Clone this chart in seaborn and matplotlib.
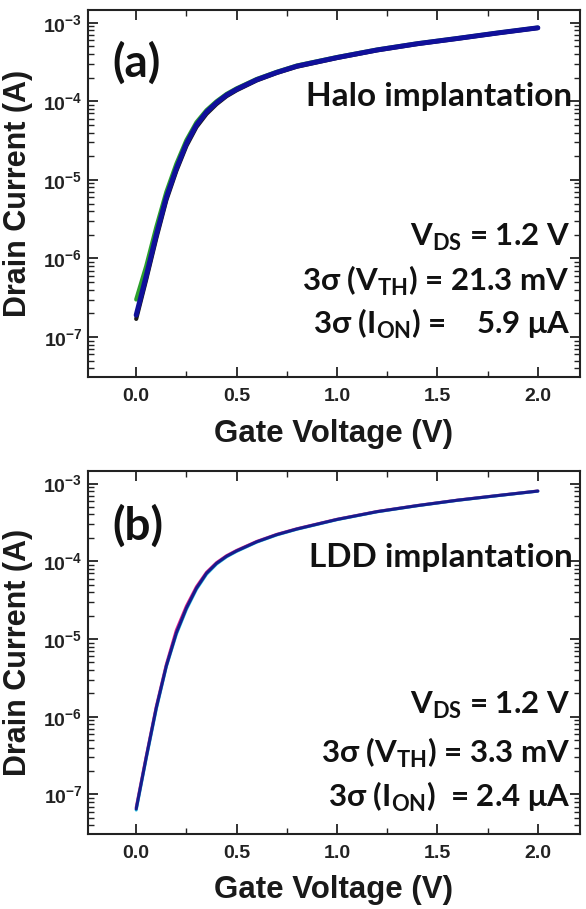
import numpy as np
import pandas as pd
import matplotlib
matplotlib.use("Agg")
import matplotlib.pyplot as plt
import seaborn as sns
from matplotlib.ticker import LogLocator, FixedLocator, MultipleLocator, FuncFormatter

sns.set_theme(style="ticks")
plt.rcParams['font.family'] = ['Liberation Sans', 'DejaVu Sans']
plt.rcParams['mathtext.fontset'] = 'custom'
plt.rcParams['mathtext.rm'] = 'Liberation Sans:bold'
plt.rcParams['mathtext.it'] = 'Liberation Sans:bold'
plt.rcParams['mathtext.bf'] = 'Liberation Sans:bold'
plt.rcParams['mathtext.sf'] = 'Lato:bold'

# ---- data ----
gate_v = [0.0, 0.05, 0.1, 0.15, 0.2, 0.25, 0.3, 0.35, 0.4, 0.45, 0.5, 0.6, 0.7, 0.8,
          1.0, 1.2, 1.4, 1.6, 1.8, 2.0]

halo_main = [1.9e-7, 6.0e-7, 2.0e-6, 6.0e-6, 1.4e-5, 2.9e-5, 5.0e-5, 7.3e-5, 9.6e-5, 1.2e-4,
             1.42e-4, 1.88e-4, 2.33e-4, 2.8e-4, 3.6e-4, 4.5e-4, 5.4e-4, 6.3e-4, 7.4e-4, 8.6e-4]
halo_upper = [3.0e-7, 8.0e-7, 2.5e-6, 7.0e-6, 1.6e-5, 3.2e-5, 5.4e-5, 7.7e-5, 1.0e-4, 1.24e-4,
              1.46e-4, 1.92e-4, 2.37e-4, 2.85e-4, 3.65e-4, 4.55e-4, 5.45e-4, 6.35e-4, 7.45e-4, 8.65e-4]
halo_lower = [1.7e-7, 5.4e-7, 1.8e-6, 5.5e-6, 1.3e-5, 2.7e-5, 4.7e-5, 6.9e-5, 9.2e-5, 1.16e-4,
              1.38e-4, 1.84e-4, 2.29e-4, 2.75e-4, 3.55e-4, 4.45e-4, 5.35e-4, 6.25e-4, 7.35e-4, 8.55e-4]

ldd_main = [6.5e-8, 3.0e-7, 1.3e-6, 4.5e-6, 1.2e-5, 2.5e-5, 4.5e-5, 7.0e-5, 9.4e-5, 1.16e-4,
            1.36e-4, 1.78e-4, 2.2e-4, 2.6e-4, 3.45e-4, 4.35e-4, 5.2e-4, 6.1e-4, 7.0e-4, 8.0e-4]
ldd_upper = [6.8e-8, 3.1e-7, 1.35e-6, 4.7e-6, 1.3e-5, 2.65e-5, 4.7e-5, 7.2e-5, 9.6e-5, 1.18e-4,
             1.38e-4, 1.8e-4, 2.22e-4, 2.62e-4, 3.47e-4, 4.37e-4, 5.22e-4, 6.12e-4, 7.02e-4, 8.02e-4]
ldd_lower = [6.3e-8, 2.9e-7, 1.25e-6, 4.4e-6, 1.15e-5, 2.4e-5, 4.35e-5, 6.8e-5, 9.2e-5, 1.14e-4,
             1.34e-4, 1.76e-4, 2.18e-4, 2.58e-4, 3.43e-4, 4.33e-4, 5.18e-4, 6.08e-4, 6.98e-4, 7.98e-4]

x_ticks = [0.0, 0.5, 1.0, 1.5, 2.0]
y_decades = [1e-7, 1e-6, 1e-5, 1e-4, 1e-3]

panel_labels = ["(a)", "(b)"]
impl_labels = ["Halo implantation", "LDD implantation"]
vds_text = "V$_{\\mathsf{DS}}$ = 1.2 V"
vth_texts = ["3σ (V$_{\\mathsf{TH}}$) = 21.3 mV", "3σ (V$_{\\mathsf{TH}}$) = 3.3 mV"]
ion_texts = ["3σ (I$_{\\mathsf{ON}}$) =    5.9 μA", "3σ (I$_{\\mathsf{ON}}$)  = 2.4 μA"]

# ---- figure ----
W, H = 586, 909
fig = plt.figure(figsize=(W / 100, H / 100), dpi=100)
ax_a = fig.add_axes([88 / W, (H - 377) / H, 492 / W, 367 / H])
ax_b = fig.add_axes([88 / W, (H - 834) / H, 492 / W, 363 / H])

n = len(gate_v)
df_a = pd.DataFrame({"V": gate_v * 3,
                     "I": halo_upper + halo_lower + halo_main,
                     "s": ["up"] * n + ["lo"] * n + ["main"] * n})
df_b = pd.DataFrame({"V": gate_v * 3,
                     "I": ldd_upper + ldd_lower + ldd_main,
                     "s": ["up"] * n + ["lo"] * n + ["main"] * n})

sns.lineplot(data=df_a[df_a.s == "up"], x="V", y="I", ax=ax_a, color="#2ca02c", lw=3.0, legend=False)
sns.lineplot(data=df_a[df_a.s == "lo"], x="V", y="I", ax=ax_a, color="#1a1a1a", lw=3.0, legend=False)
sns.lineplot(data=df_a[df_a.s == "main"], x="V", y="I", ax=ax_a, color="#10109a", lw=3.6, legend=False)

sns.lineplot(data=df_b[df_b.s == "up"], x="V", y="I", ax=ax_b, color="#e0208a", lw=2.2, legend=False)
sns.lineplot(data=df_b[df_b.s == "lo"], x="V", y="I", ax=ax_b, color="#20c8e0", lw=2.2, legend=False)
sns.lineplot(data=df_b[df_b.s == "main"], x="V", y="I", ax=ax_b, color="#1a1a8c", lw=2.2, legend=False)

line_y = [(0.381, 0.262, 0.144), (0.355, 0.223, 0.102)]
plab_y = [0.856, 0.848]

def fmt_y(v, pos):
    e = int(round(np.log10(v)))
    return "10$^{%d}$" % e

for i, ax in enumerate([ax_a, ax_b]):
    ax.set_yscale("log")
    ax.set_xlim(-0.24, 2.21)
    ax.set_ylim(3.1e-8, 1.45e-3)
    ax.xaxis.set_major_locator(FixedLocator(x_ticks))
    ax.xaxis.set_minor_locator(MultipleLocator(0.25))
    ax.yaxis.set_major_locator(FixedLocator(y_decades))
    ax.yaxis.set_minor_locator(LogLocator(base=10, subs=np.arange(2, 10), numticks=20))
    ax.yaxis.set_major_formatter(FuncFormatter(fmt_y))
    ax.xaxis.set_major_formatter(FuncFormatter(lambda v, p: "%.1f" % v))
    ax.yaxis.set_minor_formatter(FuncFormatter(lambda v, p: ""))
    ax.tick_params(which="both", direction="in", top=True, right=True, color="#222222")
    ax.tick_params(which="major", length=7, width=1.3, labelsize=14, pad=4)
    ax.tick_params(which="minor", length=4, width=1.0)
    ax.tick_params(axis="x", which="major", pad=8)
    for lab in ax.get_xticklabels() + ax.get_yticklabels():
        lab.set_fontweight("bold")
        lab.set_color("#222222")
    for sp in ax.spines.values():
        sp.set_linewidth(1.5)
        sp.set_color("#222222")
    ax.set_xlabel("Gate Voltage (V)", fontsize=22.5, fontweight="bold", color="#1a1a1a")
    ax.set_ylabel("Drain Current (A)", fontsize=22, fontweight="bold", color="#1a1a1a")
    ax.xaxis.set_label_coords(0.5, -0.114)
    ax.yaxis.set_label_coords(-0.112, 0.5)

    fam = ['Lato', 'DejaVu Sans']
    ax.text(0.05, plab_y[i], panel_labels[i], transform=ax.transAxes, fontsize=33,
            fontweight="bold", family=fam, ha="left", va="center", color="#111111")
    ax.text(0.985, 0.763, impl_labels[i], transform=ax.transAxes, fontsize=24,
            fontweight="bold", family=fam, ha="right", va="center", color="#111111")
    y1, y2, y3 = line_y[i]
    ax.text(0.98, y1, vds_text, transform=ax.transAxes, fontsize=22.5, fontweight="bold",
            family=fam, ha="right", va="center", color="#111111")
    ax.text(0.98, y2, vth_texts[i], transform=ax.transAxes, fontsize=22.5, fontweight="bold",
            family=fam, ha="right", va="center", color="#111111")
    ax.text(0.98, y3, ion_texts[i], transform=ax.transAxes, fontsize=22.5, fontweight="bold",
            family=fam, ha="right", va="center", color="#111111")

fig.savefig("out.png", dpi=100)
